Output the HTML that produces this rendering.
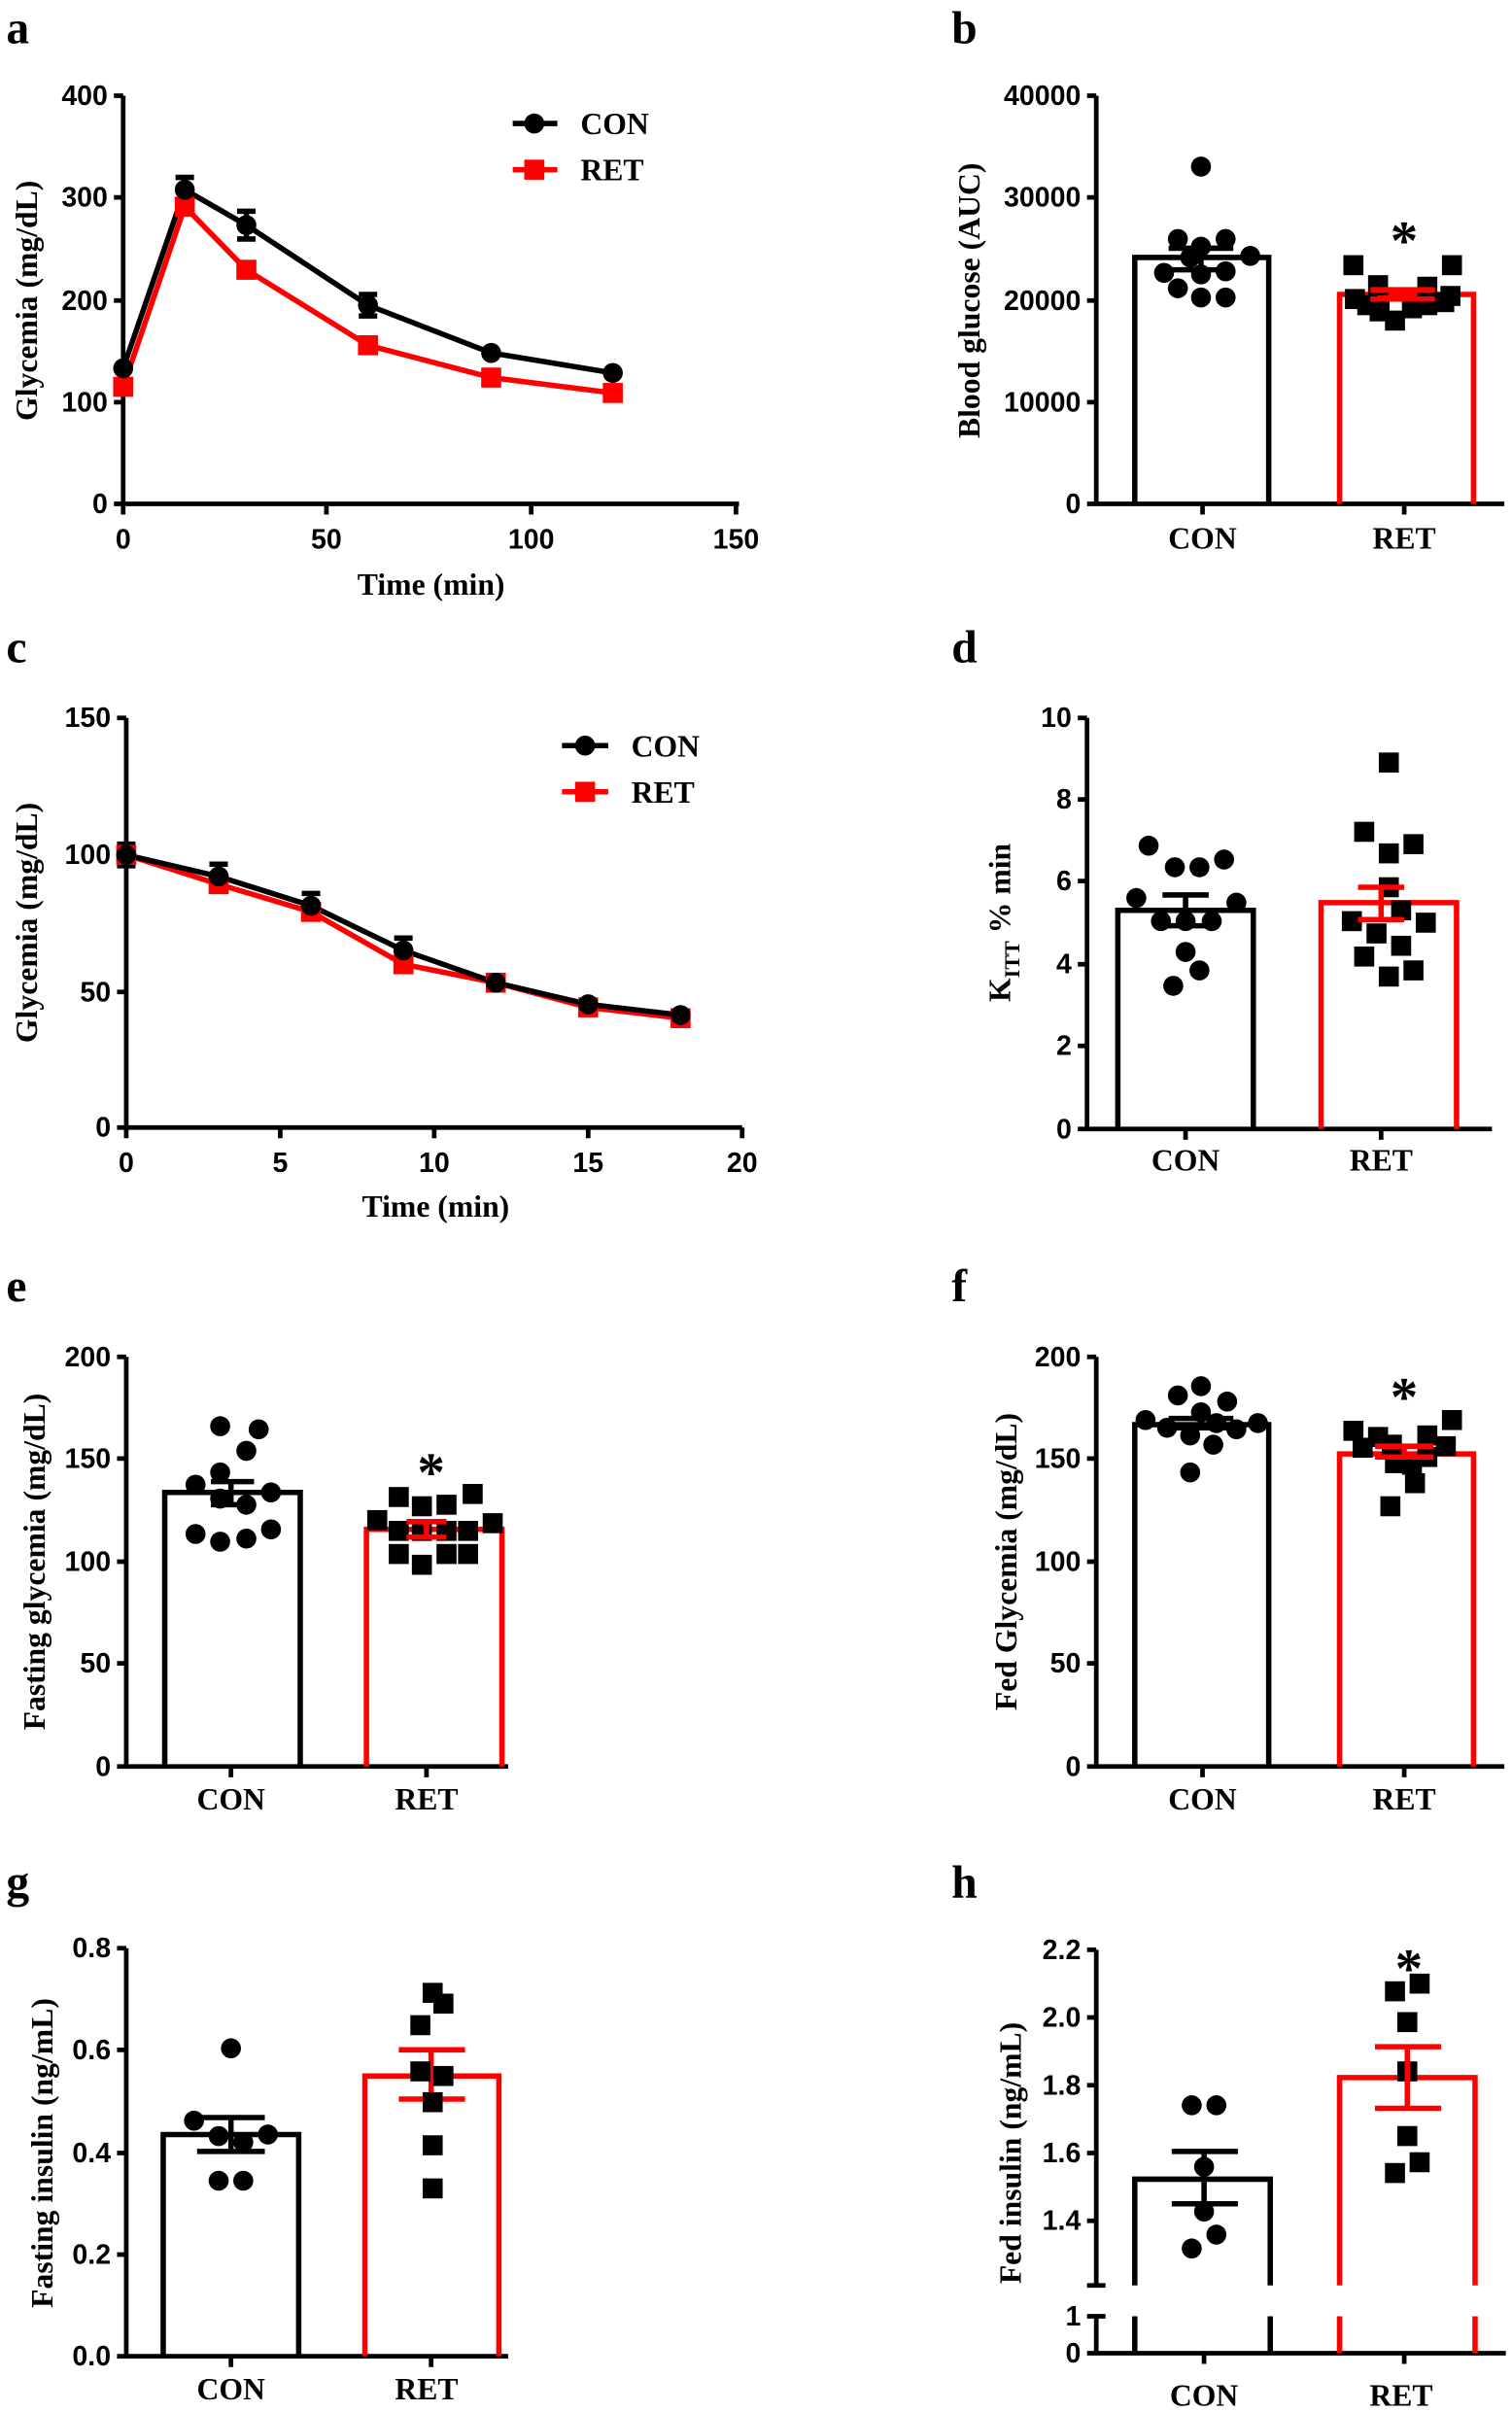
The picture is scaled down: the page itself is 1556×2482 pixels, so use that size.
<!DOCTYPE html>
<html><head><meta charset="utf-8"><style>
html,body{margin:0;padding:0;background:#fff}
svg{display:block}
.t{font-family:"Liberation Sans",Arial,sans-serif;font-weight:bold;font-size:18px;fill:#000}
.l{font-family:"Liberation Serif","Times New Roman",serif;font-weight:bold;font-size:20px;fill:#000}
.p{font-family:"Liberation Serif",serif;font-weight:bold;font-size:30px;fill:#000}
.st{font-family:"Liberation Serif",serif;font-weight:bold;font-size:36px;fill:#000}
.ax{stroke:#000;stroke-width:3;fill:none}
.bk{stroke:#000;stroke-width:3.5;fill:none}
.rd{stroke:#f00;stroke-width:3.5;fill:none}
</style></head><body>
<svg width="1556" height="2482" viewBox="0 0 982 1566" xmlns="http://www.w3.org/2000/svg">
<rect width="982" height="1566" fill="#fff"/>
<defs>
<circle id="c" r="6.5" fill="#000"/>
<rect id="s" x="-6.5" y="-6.5" width="13" height="13" fill="#000"/>
<rect id="rs" x="-6.5" y="-6.5" width="13" height="13" fill="#f00"/>
</defs>

<!-- ===== a ===== -->
<text class="p" x="4" y="28">a</text>
<path class="ax" d="M80,62V327H480M74,62H80M74,128H80M74,195H80M74,261H80M74,327H80M80,327v7M212,327v7M345,327v7M478,327v7"/>
<text class="t" x="70" y="68" text-anchor="end">400</text>
<text class="t" x="70" y="134" text-anchor="end">300</text>
<text class="t" x="70" y="201" text-anchor="end">200</text>
<text class="t" x="70" y="267" text-anchor="end">100</text>
<text class="t" x="70" y="333" text-anchor="end">0</text>
<text class="t" x="80" y="356" text-anchor="middle">0</text>
<text class="t" x="212" y="356" text-anchor="middle">50</text>
<text class="t" x="345" y="356" text-anchor="middle">100</text>
<text class="t" x="478" y="356" text-anchor="middle">150</text>
<text class="l" x="280" y="386" text-anchor="middle">Time (min)</text>
<text class="l" transform="translate(24,195) rotate(-90)" text-anchor="middle">Glycemia (mg/dL)</text>
<polyline class="rd" points="80,251 120,134 160,175 239,224 319,245 398,255"/>
<polyline class="bk" points="80,239 120,123 160,146 239,198 319,229 398,242"/>
<path class="bk" stroke-width="3" d="M120,115V131M114,115H126M114,131H126M160,137V155M154,137H166M154,155H166M239,191V205M233,191H245M233,205H245"/>
<use href="#rs" x="80" y="251"/><use href="#rs" x="120" y="134"/><use href="#rs" x="160" y="175"/><use href="#rs" x="239" y="224"/><use href="#rs" x="319" y="245"/><use href="#rs" x="398" y="255"/>
<use href="#c" x="80" y="239"/><use href="#c" x="120" y="123"/><use href="#c" x="160" y="146"/><use href="#c" x="239" y="198"/><use href="#c" x="319" y="229"/><use href="#c" x="398" y="242"/>
<path class="bk" d="M333,80H362"/><use href="#c" x="347" y="80"/>
<path class="rd" d="M333,110H362"/><use href="#rs" x="347" y="110"/>
<text class="l" x="377" y="87" font-size="19">CON</text>
<text class="l" x="377" y="117" font-size="19">RET</text>

<!-- ===== b ===== -->
<text class="p" x="618" y="28">b</text>
<path class="ax" d="M712,62V327H977M706,62H712M706,128H712M706,195H712M706,261H712M706,327H712M781,327v7M912,327v7"/>
<text class="t" x="702" y="68" text-anchor="end">40000</text>
<text class="t" x="702" y="134" text-anchor="end">30000</text>
<text class="t" x="702" y="201" text-anchor="end">20000</text>
<text class="t" x="702" y="267" text-anchor="end">10000</text>
<text class="t" x="702" y="333" text-anchor="end">0</text>
<text class="l" x="781" y="356" text-anchor="middle">CON</text>
<text class="l" x="912" y="356" text-anchor="middle">RET</text>
<text class="l" transform="translate(636,195) rotate(-90)" text-anchor="middle" font-size="19">Blood glucose (AUC)</text>
<path class="bk" d="M737,327V167H824V327"/>
<path class="rd" d="M870,327V191H957V327"/>
<use href="#c" x="780" y="108"/><use href="#c" x="765" y="155"/><use href="#c" x="796" y="155"/><use href="#c" x="780" y="160"/><use href="#c" x="773" y="167"/><use href="#c" x="812" y="166"/><use href="#c" x="756" y="177"/><use href="#c" x="780" y="178"/><use href="#c" x="796" y="176"/><use href="#c" x="765" y="187"/><use href="#c" x="780" y="193"/><use href="#c" x="796" y="193"/>
<path class="bk" stroke-width="3" d="M780,161V175M759,161H801M759,175H801"/>
<use href="#s" x="879" y="172"/><use href="#s" x="943" y="172"/><use href="#s" x="895" y="185"/><use href="#s" x="927" y="186"/><use href="#s" x="880" y="194"/><use href="#s" x="942" y="192"/><use href="#s" x="896" y="202"/><use href="#s" x="906" y="208"/><use href="#s" x="917" y="200"/><use href="#s" x="927" y="198"/><use href="#s" x="938" y="196"/><use href="#s" x="888" y="198"/>
<path class="rd" stroke-width="3" d="M911,188V194M890,188H932M890,194H932"/>
<text class="st" x="912" y="168" text-anchor="middle">*</text>

<!-- ===== c ===== -->
<text class="p" x="4" y="430">c</text>
<path class="ax" d="M82,466V732H482M76,466H82M76,555H82M76,644H82M76,732H82M82,732v7M182,732v7M282,732v7M382,732v7M482,732v7"/>
<text class="t" x="72" y="472" text-anchor="end">150</text>
<text class="t" x="72" y="561" text-anchor="end">100</text>
<text class="t" x="72" y="650" text-anchor="end">50</text>
<text class="t" x="72" y="738" text-anchor="end">0</text>
<text class="t" x="82" y="761" text-anchor="middle">0</text>
<text class="t" x="182" y="761" text-anchor="middle">5</text>
<text class="t" x="282" y="761" text-anchor="middle">10</text>
<text class="t" x="382" y="761" text-anchor="middle">15</text>
<text class="t" x="482" y="761" text-anchor="middle">20</text>
<text class="l" x="283" y="790" text-anchor="middle">Time (min)</text>
<text class="l" transform="translate(24,599) rotate(-90)" text-anchor="middle">Glycemia (mg/dL)</text>
<polyline class="rd" points="82,555 142,574 202,592 262,626 322,638 382,654 442,661"/>
<polyline class="bk" points="82,555 142,569 202,588 262,617 322,638 382,652 442,659"/>
<path class="bk" stroke-width="3" d="M142,561V577M136,561H148M136,577H148M202,580V596M196,580H208M196,596H208M262,609V625M256,609H268M256,625H268M82,548V562M76,548H88M76,562H88"/>
<use href="#rs" x="82" y="555"/><use href="#rs" x="142" y="574"/><use href="#rs" x="202" y="592"/><use href="#rs" x="262" y="626"/><use href="#rs" x="322" y="638"/><use href="#rs" x="382" y="654"/><use href="#rs" x="442" y="661"/>
<use href="#c" x="82" y="555"/><use href="#c" x="142" y="569"/><use href="#c" x="202" y="588"/><use href="#c" x="262" y="617"/><use href="#c" x="322" y="638"/><use href="#c" x="382" y="652"/><use href="#c" x="442" y="659"/>
<path class="bk" d="M365,484H395"/><use href="#c" x="380" y="484"/>
<path class="rd" d="M365,514H395"/><use href="#rs" x="380" y="514"/>
<text class="l" x="410" y="491" font-size="19">CON</text>
<text class="l" x="410" y="521" font-size="19">RET</text>

<!-- ===== d ===== -->
<text class="p" x="618" y="430">d</text>
<path class="ax" d="M706,466V733H969M700,466H706M700,519H706M700,572H706M700,626H706M700,679H706M700,733H706M770,733v7M897,733v7"/>
<text class="t" x="696" y="472" text-anchor="end">10</text>
<text class="t" x="696" y="525" text-anchor="end">8</text>
<text class="t" x="696" y="578" text-anchor="end">6</text>
<text class="t" x="696" y="632" text-anchor="end">4</text>
<text class="t" x="696" y="685" text-anchor="end">2</text>
<text class="t" x="696" y="739" text-anchor="end">0</text>
<text class="l" x="770" y="760" text-anchor="middle">CON</text>
<text class="l" x="897" y="760" text-anchor="middle">RET</text>
<text class="l" transform="translate(656,599) rotate(-90)" text-anchor="middle">K<tspan font-size="14" dy="6">ITT</tspan><tspan dy="-6"> % min</tspan></text>
<path class="bk" d="M726,733V591H814V733"/>
<path class="rd" d="M858,733V586H946V733"/>
<use href="#c" x="746" y="549"/><use href="#c" x="763" y="563"/><use href="#c" x="779" y="563"/><use href="#c" x="795" y="558"/><use href="#c" x="738" y="583"/><use href="#c" x="803" y="586"/><use href="#c" x="754" y="598"/><use href="#c" x="770" y="598"/><use href="#c" x="787" y="598"/><use href="#c" x="770" y="618"/><use href="#c" x="779" y="630"/><use href="#c" x="762" y="640"/>
<path class="bk" stroke-width="3" d="M770,581V601M755,581H785M755,601H785"/>
<use href="#s" x="902" y="495"/><use href="#s" x="886" y="540"/><use href="#s" x="918" y="548"/><use href="#s" x="902" y="554"/><use href="#s" x="902" y="576"/><use href="#s" x="910" y="591"/><use href="#s" x="878" y="598"/><use href="#s" x="894" y="606"/><use href="#s" x="926" y="599"/><use href="#s" x="886" y="621"/><use href="#s" x="910" y="614"/><use href="#s" x="902" y="634"/><use href="#s" x="918" y="630"/>
<path class="rd" stroke-width="3" d="M897,576V597M882,576H912M882,597H912"/>

<!-- ===== e ===== -->
<text class="p" x="4" y="845">e</text>
<path class="ax" d="M82,881V1147H330M76,881H82M76,947H82M76,1014H82M76,1080H82M76,1147H82M150,1147v7M277,1147v7"/>
<text class="t" x="72" y="887" text-anchor="end">200</text>
<text class="t" x="72" y="953" text-anchor="end">150</text>
<text class="t" x="72" y="1020" text-anchor="end">100</text>
<text class="t" x="72" y="1086" text-anchor="end">50</text>
<text class="t" x="72" y="1153" text-anchor="end">0</text>
<text class="l" x="150" y="1175" text-anchor="middle">CON</text>
<text class="l" x="277" y="1175" text-anchor="middle">RET</text>
<text class="l" transform="translate(29,1014) rotate(-90)" text-anchor="middle" font-size="19">Fasting glycemia (mg/dL)</text>
<path class="bk" d="M107,1147V969H195V1147"/>
<path class="rd" d="M238,1147V993H326V1147"/>
<use href="#c" x="143" y="926"/><use href="#c" x="168" y="928"/><use href="#c" x="160" y="942"/><use href="#c" x="143" y="956"/><use href="#c" x="127" y="964"/><use href="#c" x="176" y="969"/><use href="#c" x="143" y="973"/><use href="#c" x="160" y="977"/><use href="#c" x="127" y="996"/><use href="#c" x="143" y="1001"/><use href="#c" x="160" y="999"/><use href="#c" x="176" y="993"/>
<path class="bk" stroke-width="3" d="M150,962V977M137,962H165M137,977H165"/>
<use href="#s" x="259" y="972"/><use href="#s" x="274" y="978"/><use href="#s" x="290" y="977"/><use href="#s" x="307" y="970"/><use href="#s" x="245" y="987"/><use href="#s" x="320" y="989"/><use href="#s" x="259" y="994"/><use href="#s" x="274" y="994"/><use href="#s" x="290" y="994"/><use href="#s" x="304" y="994"/><use href="#s" x="259" y="1009"/><use href="#s" x="274" y="1016"/><use href="#s" x="290" y="1009"/><use href="#s" x="304" y="1009"/>
<path class="rd" stroke-width="4" d="M277,988V998M264,988H290M264,998H290"/>
<text class="st" x="280" y="968" text-anchor="middle">*</text>

<!-- ===== f ===== -->
<text class="p" x="618" y="845">f</text>
<path class="ax" d="M712,881V1147H977M706,881H712M706,947H712M706,1014H712M706,1080H712M706,1147H712M781,1147v7M912,1147v7"/>
<text class="t" x="702" y="887" text-anchor="end">200</text>
<text class="t" x="702" y="953" text-anchor="end">150</text>
<text class="t" x="702" y="1020" text-anchor="end">100</text>
<text class="t" x="702" y="1086" text-anchor="end">50</text>
<text class="t" x="702" y="1153" text-anchor="end">0</text>
<text class="l" x="781" y="1175" text-anchor="middle">CON</text>
<text class="l" x="912" y="1175" text-anchor="middle">RET</text>
<text class="l" transform="translate(660,1014) rotate(-90)" text-anchor="middle" font-size="19">Fed Glycemia (mg/dL)</text>
<path class="bk" d="M737,1147V925H824V1147"/>
<path class="rd" d="M870,1147V944H957V1147"/>
<use href="#c" x="780" y="900"/><use href="#c" x="765" y="906"/><use href="#c" x="797" y="910"/><use href="#c" x="780" y="917"/><use href="#c" x="744" y="922"/><use href="#c" x="817" y="924"/><use href="#c" x="758" y="927"/><use href="#c" x="773" y="932"/><use href="#c" x="803" y="928"/><use href="#c" x="788" y="938"/><use href="#c" x="773" y="956"/><use href="#c" x="790" y="924"/>
<path class="bk" stroke-width="3" d="M780,921V927M759,921H801M759,927H801"/>
<use href="#s" x="943" y="922"/><use href="#s" x="879" y="929"/><use href="#s" x="895" y="933"/><use href="#s" x="927" y="932"/><use href="#s" x="939" y="939"/><use href="#s" x="885" y="940"/><use href="#s" x="904" y="938"/><use href="#s" x="906" y="950"/><use href="#s" x="917" y="951"/><use href="#s" x="927" y="946"/><use href="#s" x="919" y="963"/><use href="#s" x="903" y="978"/>
<path class="rd" stroke-width="3" d="M912,939V946M893,939H931M893,946H931"/>
<text class="st" x="912" y="919" text-anchor="middle">*</text>

<!-- ===== g ===== -->
<text class="p" x="4" y="1232">g</text>
<path class="ax" d="M82,1265V1530H330M76,1265H82M76,1331H82M76,1398H82M76,1464H82M76,1530H82M150,1530v7M280,1530v7"/>
<text class="t" x="72" y="1271" text-anchor="end">0.8</text>
<text class="t" x="72" y="1337" text-anchor="end">0.6</text>
<text class="t" x="72" y="1404" text-anchor="end">0.4</text>
<text class="t" x="72" y="1470" text-anchor="end">0.2</text>
<text class="t" x="72" y="1536" text-anchor="end">0.0</text>
<text class="l" x="150" y="1558" text-anchor="middle">CON</text>
<text class="l" x="277" y="1558" text-anchor="middle">RET</text>
<text class="l" transform="translate(34,1398) rotate(-90)" text-anchor="middle" font-size="19">Fasting insulin (ng/mL)</text>
<path class="bk" d="M106,1530V1386H194V1530"/>
<path class="rd" d="M237,1530V1348H324V1530"/>
<path class="bk" stroke-width="3" d="M150,1375V1397M128,1375H172M128,1397H172"/>
<path class="rd" stroke-width="3" d="M280,1331V1363M259,1331H302M259,1363H302"/>
<use href="#c" x="150" y="1330"/><use href="#c" x="126" y="1377"/><use href="#c" x="142" y="1387"/><use href="#c" x="158" y="1391"/><use href="#c" x="174" y="1386"/><use href="#c" x="142" y="1416"/><use href="#c" x="158" y="1416"/>
<use href="#s" x="281" y="1294"/><use href="#s" x="288" y="1301"/><use href="#s" x="273" y="1315"/><use href="#s" x="273" y="1345"/><use href="#s" x="288" y="1348"/><use href="#s" x="281" y="1365"/><use href="#s" x="281" y="1393"/><use href="#s" x="281" y="1421"/>

<!-- ===== h ===== -->
<text class="p" x="618" y="1232">h</text>
<path class="ax" d="M712,1266V1484M706,1484H718M706,1266H712M706,1310H712M706,1354H712M706,1398H712M706,1442H712M712,1504V1528H978M706,1504H718M706,1528H712M782,1528v7M912,1528v7"/>
<text class="t" x="702" y="1272" text-anchor="end">2.2</text>
<text class="t" x="702" y="1316" text-anchor="end">2.0</text>
<text class="t" x="702" y="1360" text-anchor="end">1.8</text>
<text class="t" x="702" y="1404" text-anchor="end">1.6</text>
<text class="t" x="702" y="1448" text-anchor="end">1.4</text>
<text class="t" x="702" y="1510" text-anchor="end">1</text>
<text class="t" x="702" y="1534" text-anchor="end">0</text>
<text class="l" x="782" y="1562" text-anchor="middle">CON</text>
<text class="l" x="910" y="1562" text-anchor="middle">RET</text>
<text class="l" transform="translate(663,1398) rotate(-90)" text-anchor="middle" font-size="19">Fed insulin (ng/mL)</text>
<path class="bk" d="M737,1484V1415H825V1484M737,1504V1528M825,1504V1528"/>
<path class="rd" d="M870,1484V1349H958V1484M870,1504V1528M958,1504V1528"/>
<use href="#c" x="774" y="1367"/><use href="#c" x="790" y="1367"/><use href="#c" x="782" y="1407"/><use href="#c" x="782" y="1436"/><use href="#c" x="790" y="1451"/><use href="#c" x="774" y="1460"/>
<path class="bk" stroke-width="3" d="M782,1397V1431M761,1397H804M761,1431H804"/>
<use href="#s" x="922" y="1288"/><use href="#s" x="906" y="1293"/><use href="#s" x="914" y="1313"/><use href="#s" x="914" y="1345"/><use href="#s" x="914" y="1387"/><use href="#s" x="922" y="1404"/><use href="#s" x="906" y="1411"/>
<path class="rd" stroke-width="3" d="M914,1329V1369M893,1329H936M893,1369H936"/>
<text class="st" x="915" y="1290" text-anchor="middle">*</text>
</svg>
</body></html>
